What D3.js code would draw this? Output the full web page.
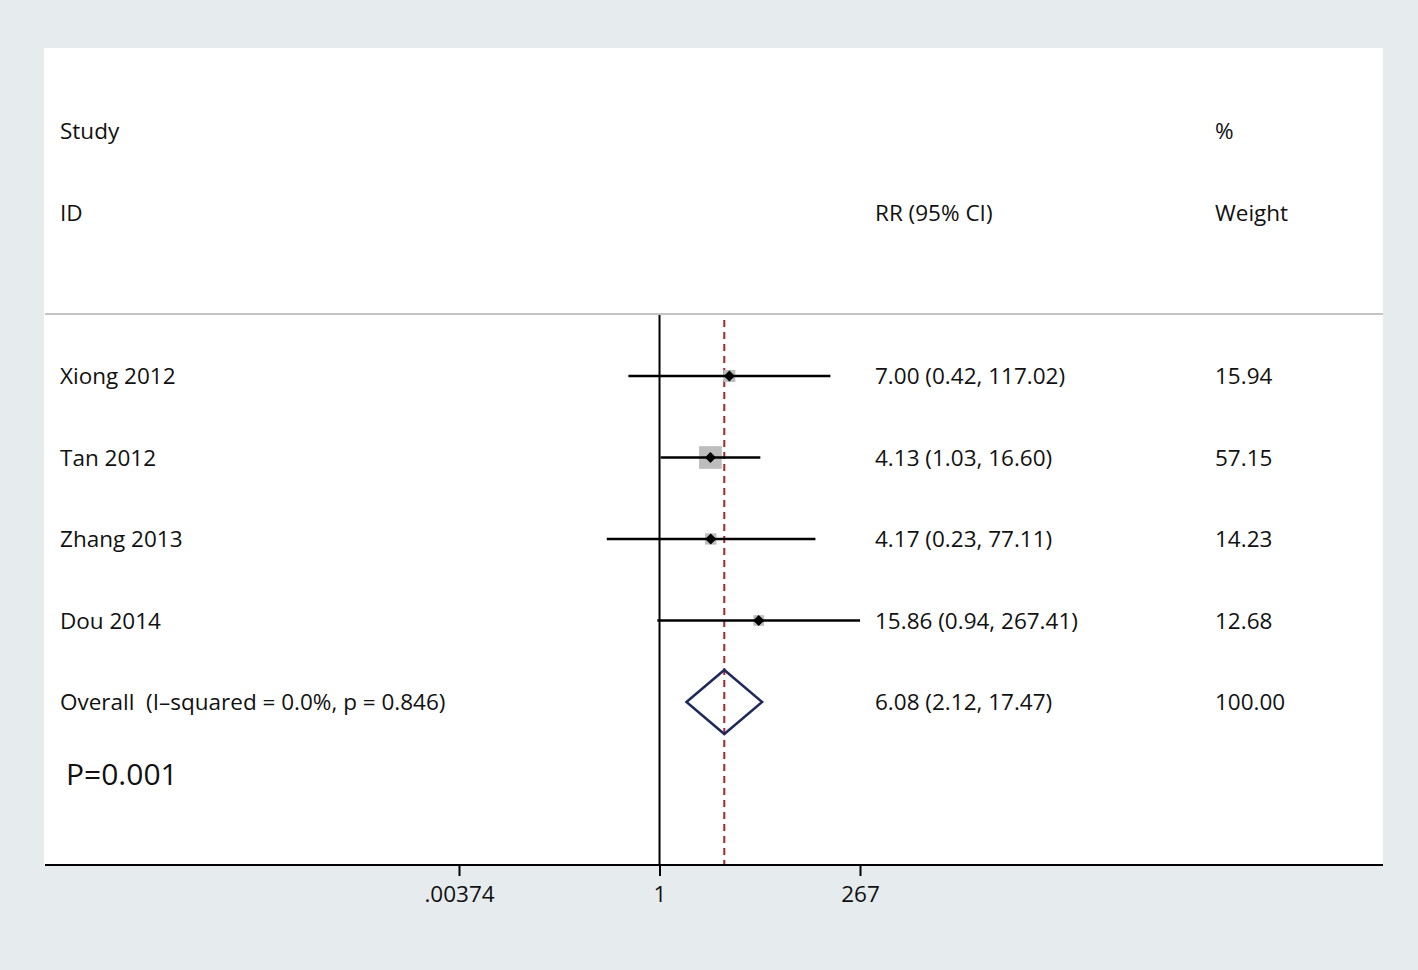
<!DOCTYPE html>
<html>
<head>
<meta charset="utf-8">
<script src="https://cdn.jsdelivr.net/npm/d3@7"></script>
<style>
  body { margin: 0; background: #e6ebee; }
  svg { display: block; }
  text { font-family: "Open Sans", "Noto Sans", sans-serif; fill: #111; white-space: pre; }
</style>
</head>
<body>
<svg id="chart"></svg>
<script>
// study data
const studies = ["Xiong 2012", "Tan 2012", "Zhang 2013", "Dou 2014"];
const rr = [7.00, 4.13, 4.17, 15.86];
const ciLow = [0.42, 1.03, 0.23, 0.94];
const ciHigh = [117.02, 16.60, 77.11, 267.41];
const weights = [15.94, 57.15, 14.23, 12.68];

// pooled estimate
const overallLabel = "Overall  (I\u2013squared = 0.0%, p = 0.846)";
const overallRR = 6.08, overallLow = 2.12, overallHigh = 17.47;

const tickValues = [0.00374, 1, 267];
const tickLabels = [".00374", "1", "267"];

const width = 1418, height = 970;
const fs = "22.5px";
const svg = d3.select("#chart").attr("width", width).attr("height", height);

// white plot panel
svg.append("rect")
  .attr("x", 44).attr("y", 48)
  .attr("width", 1383 - 44).attr("height", 865 - 48)
  .attr("fill", "#fff");

const x = d3.scaleLog().domain([0.00374, 267]).range([459, 860]);
const rows = studies.concat(["Overall"]);
const y = d3.scalePoint().domain(rows).range([376, 702]);

// header
const header = svg.append("g").style("font-size", fs);
header.append("text").attr("x", 60).attr("y", 139).text("Study");
header.append("text").attr("x", 60).attr("y", 221).text("ID");
header.append("text").attr("x", 875).attr("y", 221).text("RR (95% CI)");
header.append("text").attr("x", 1215).attr("y", 139).text("%");
header.append("text").attr("x", 1215).attr("y", 221).text("Weight");

svg.append("line")
  .attr("x1", 45).attr("x2", 1383).attr("y1", 314).attr("y2", 314)
  .attr("stroke", "#c4c4c4").attr("stroke-width", 2);

// null line and pooled line
svg.append("line")
  .attr("x1", x(1)).attr("x2", x(1)).attr("y1", 315).attr("y2", 865)
  .attr("stroke", "#000").attr("stroke-width", 2);
svg.append("line")
  .attr("x1", x(overallRR)).attr("x2", x(overallRR)).attr("y1", 320).attr("y2", 865)
  .attr("stroke", "#a3272d").attr("stroke-width", 2)
  .attr("stroke-dasharray", "7,5");

const data = studies.map((s, i) => ({ s, rr: rr[i], lo: ciLow[i], hi: ciHigh[i], w: weights[i] }));

// weight boxes
svg.selectAll(".box").data(data).enter().append("rect")
  .attr("class", "box")
  .attr("x", d => x(d.rr) - 1.5 * Math.sqrt(d.w))
  .attr("y", d => y(d.s) - 1.5 * Math.sqrt(d.w))
  .attr("width", d => 3 * Math.sqrt(d.w))
  .attr("height", d => 3 * Math.sqrt(d.w))
  .attr("fill", "#bdbdbd");

// CI lines
svg.selectAll(".ci").data(data).enter().append("line")
  .attr("class", "ci")
  .attr("x1", d => x(d.lo)).attr("x2", d => x(d.hi))
  .attr("y1", d => y(d.s)).attr("y2", d => y(d.s))
  .attr("stroke", "#000").attr("stroke-width", 2.5);

// point markers
svg.selectAll(".pt").data(data).enter().append("path")
  .attr("class", "pt")
  .attr("d", d => {
    const cx = x(d.rr), cy = y(d.s), r = 5.5;
    return `M${cx},${cy - r}L${cx + r},${cy}L${cx},${cy + r}L${cx - r},${cy}Z`;
  })
  .attr("fill", "#000");

// overall diamond
const oy = y("Overall");
svg.append("path")
  .attr("d", `M${x(overallLow)},${oy}L${x(overallRR)},${oy - 32}L${x(overallHigh)},${oy}L${x(overallRR)},${oy + 32}Z`)
  .attr("fill", "none").attr("stroke", "#1f2a5c").attr("stroke-width", 2.5);

// row labels
const fmt = d3.format(".2f");
const lab = svg.append("g").style("font-size", fs);
lab.selectAll(".name").data(data).enter().append("text")
  .attr("x", 60).attr("y", d => y(d.s) + 8).text(d => d.s);
lab.selectAll(".est").data(data).enter().append("text")
  .attr("x", 875).attr("y", d => y(d.s) + 8)
  .text(d => `${fmt(d.rr)} (${fmt(d.lo)}, ${fmt(d.hi)})`);
lab.selectAll(".wt").data(data).enter().append("text")
  .attr("x", 1215).attr("y", d => y(d.s) + 8).text(d => fmt(d.w));

lab.append("text").attr("x", 60).attr("y", oy + 8).text(overallLabel);
lab.append("text").attr("x", 875).attr("y", oy + 8)
  .text(`${fmt(overallRR)} (${fmt(overallLow)}, ${fmt(overallHigh)})`);
lab.append("text").attr("x", 1215).attr("y", oy + 8).text(fmt(d3.sum(weights)));

svg.append("text").attr("x", 66).attr("y", 785)
  .style("font-size", "30px").text("P=0.001");

// axis
svg.append("line")
  .attr("x1", 45).attr("x2", 1383).attr("y1", 865).attr("y2", 865)
  .attr("stroke", "#000").attr("stroke-width", 2);
const axis = d3.axisBottom(x)
  .tickValues(tickValues)
  .tickFormat((d, i) => tickLabels[i])
  .tickSize(11).tickPadding(10);
const ag = svg.append("g").attr("transform", "translate(0,865)").call(axis);
ag.select(".domain").remove();
ag.selectAll(".tick line").attr("stroke", "#000").attr("stroke-width", 2);
ag.selectAll(".tick text").style("font-size", fs)
  .style("font-family", "'Open Sans', 'Noto Sans', sans-serif").attr("fill", "#111");
</script>
</body>
</html>
